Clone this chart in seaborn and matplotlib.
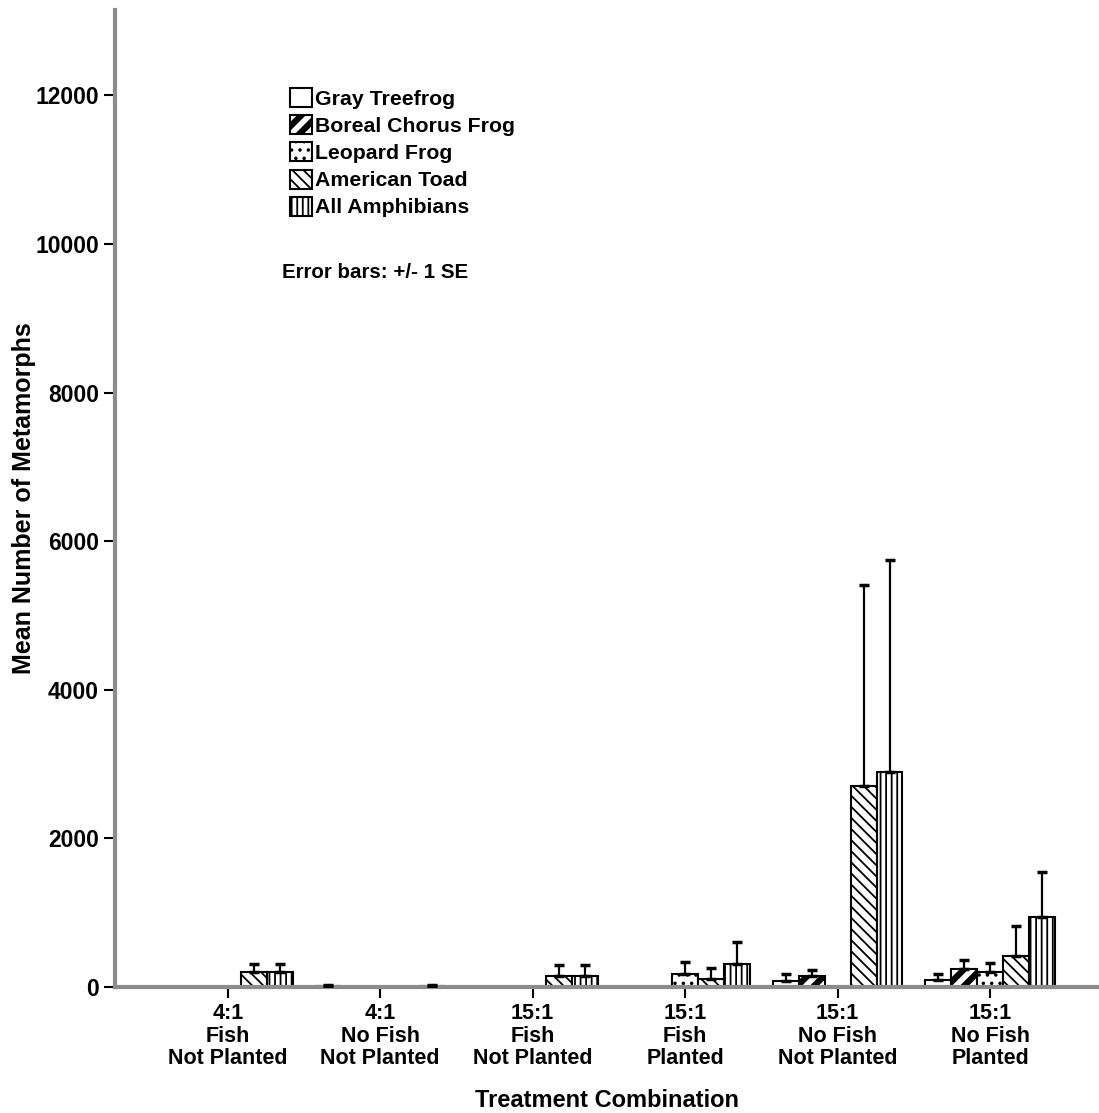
import pandas as pd
import matplotlib
matplotlib.use("Agg")
import matplotlib.pyplot as plt
import seaborn as sns

treatments = ["4:1\nFish\nNot Planted", "4:1\nNo Fish\nNot Planted",
              "15:1\nFish\nNot Planted", "15:1\nFish\nPlanted",
              "15:1\nNo Fish\nNot Planted", "15:1\nNo Fish\nPlanted"]
species = ["Gray Treefrog", "Boreal Chorus Frog", "Leopard Frog",
           "American Toad", "All Amphibians"]

gray_mean = [0, 15, 0, 0, 80, 95]
gray_se = [0, 12, 0, 0, 95, 85]
boreal_mean = [0, 0, 0, 0, 145, 245]
boreal_se = [0, 0, 0, 0, 90, 115]
leopard_mean = [0, 0, 0, 180, 0, 200]
leopard_se = [0, 0, 0, 150, 0, 125]
toad_mean = [206, 0, 150, 112, 2705, 420]
toad_se = [100, 0, 145, 148, 2705, 395]
all_mean = [206, 15, 150, 315, 2900, 945]
all_se = [100, 12, 145, 285, 2850, 605]

means = [gray_mean, boreal_mean, leopard_mean, toad_mean, all_mean]
ses = [gray_se, boreal_se, leopard_se, toad_se, all_se]
hatches = ["", "//", "..", "\\\\\\", "|||"]

rows = []
for sp, m, s in zip(species, means, ses):
    for t, mv, sv in zip(treatments, m, s):
        rows.append({"Treatment": t, "Species": sp, "Mean": mv, "SE": sv})
df = pd.DataFrame(rows)

sns.set_style("ticks")
plt.rcParams["font.family"] = ["Liberation Sans", "DejaVu Sans"]
plt.rcParams["text.color"] = "black"
plt.rcParams["axes.labelcolor"] = "black"
plt.rcParams["xtick.color"] = "black"
plt.rcParams["ytick.color"] = "black"
plt.rcParams["hatch.linewidth"] = 1.3

fig = plt.figure(figsize=(10.99, 11.13), dpi=100)
ax = fig.add_axes([0.1046, 0.1132, 0.8954, 0.8778])

sns.barplot(data=df, x="Treatment", y="Mean", hue="Species",
            order=treatments, hue_order=species, palette=["white"] * 5,
            edgecolor="black", linewidth=1.5, width=0.852, errorbar=None,
            legend=False, ax=ax)

for cont, h, sp in zip(ax.containers, hatches, species):
    sub = df[df["Species"] == sp].set_index("Treatment").loc[treatments]
    for bar, mv, sv in zip(cont.patches, sub["Mean"], sub["SE"]):
        bar.set_hatch(h)
        bar.set_facecolor("white")
        if sp == "Boreal Chorus Frog" and hasattr(bar, "set_hatch_linewidth"):
            bar.set_hatch_linewidth(4.5)
        if sv > 0:
            xc = bar.get_x() + bar.get_width() / 2
            ax.errorbar(xc, mv, yerr=[[0], [sv]], fmt="none", ecolor="black",
                        elinewidth=1.6, capsize=3.5, capthick=2.5, zorder=3)

leg = ax.legend(ax.containers, species, loc="upper left",
                bbox_to_anchor=(0.167, 0.931), frameon=False, borderpad=0,
                handlelength=1.05, handleheight=1.0, handletextpad=0.12,
                labelspacing=0.30, prop={"weight": "bold", "size": 15.3})
for hd, h in zip(leg.legend_handles, hatches):
    hd.set_hatch(h)
    hd.set_linewidth(1.5)
    if h == "//" and hasattr(hd, "set_hatch_linewidth"):
        hd.set_hatch_linewidth(4.5)

ax.text(0.170, 0.731, "Error bars: +/- 1 SE", transform=ax.transAxes,
        fontsize=14.8, fontweight="bold", va="center", ha="left")

ax.set_xlim(-0.74, 5.715)
ax.set_ylim(0, 13150)
ax.set_yticks([0, 2000, 4000, 6000, 8000, 10000, 12000])
ax.tick_params(axis="both", direction="out", length=8, width=1.5, color="black",
               labelcolor="black")
for lab in ax.get_yticklabels():
    lab.set_fontweight("bold")
    lab.set_fontsize(16.5)
for lab in ax.get_xticklabels():
    lab.set_fontweight("bold")
    lab.set_fontsize(15.5)
    lab.set_linespacing(1.1)

sns.despine(ax=ax)
for side in ["left", "bottom"]:
    ax.spines[side].set_color("#8c8c8c")
    ax.spines[side].set_linewidth(3)

ax.set_xlabel("Treatment Combination", fontsize=17, fontweight="bold", labelpad=14)
ax.set_ylabel("Mean Number of Metamorphs", fontsize=18,
              family=["Liberation Sans Narrow", "Liberation Sans", "DejaVu Sans"],
              fontweight="bold")
ax.yaxis.set_label_coords(-0.08, 0.5)

fig.savefig("out.png", dpi=100)
